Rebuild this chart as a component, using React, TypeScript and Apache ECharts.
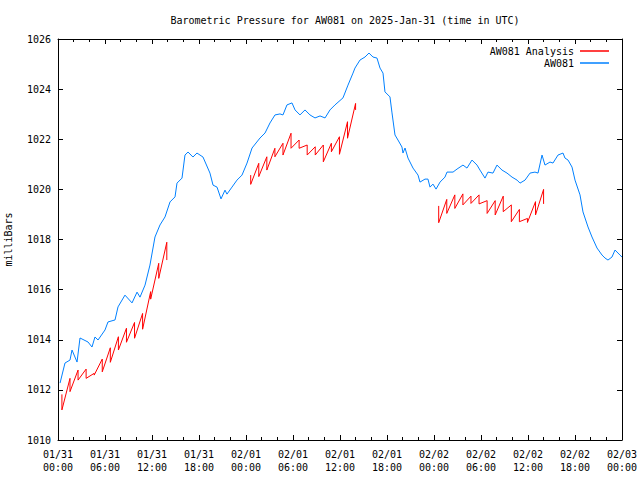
import React, { useEffect, useRef } from "react";
import * as echarts from "echarts";

// ---- data ----
const titleText = "Barometric Pressure for AW081 on 2025-Jan-31 (time in UTC)";
const xTickLabels = [
  "01/31\n00:00", "01/31\n06:00", "01/31\n12:00", "01/31\n18:00",
  "02/01\n00:00", "02/01\n06:00", "02/01\n12:00", "02/01\n18:00",
  "02/02\n00:00", "02/02\n06:00", "02/02\n12:00", "02/02\n18:00",
  "02/03\n00:00",
];
const yTicks = [1010, 1012, 1014, 1016, 1018, 1020, 1022, 1024, 1026];

// hours since 2025-01-31 00:00 UTC
const stationHours = [
  0.26, 0.89, 1.53, 1.79, 2.43, 2.81, 3.83, 4.34, 4.72, 5.11, 6.0, 6.38, 7.28, 7.66, 8.55, 9.45,
  10.09, 10.47, 11.11, 11.74, 12.38, 13.02, 13.66, 14.3, 14.94, 15.19, 15.83, 16.21, 16.6, 17.23,
  17.74, 18.51, 19.4, 19.79, 20.3, 20.81, 21.32, 21.57, 22.21, 22.85, 23.49, 24.13, 24.77, 25.79,
  26.43, 27.06, 27.7, 28.34, 28.72, 29.23, 29.87, 30.26, 30.89, 31.53, 32.17, 32.81, 33.45, 34.09,
  34.72, 35.36, 36.38, 37.02, 37.66, 37.91, 38.55, 39.19, 39.7, 40.21, 40.72, 41.11, 41.49, 41.74,
  42.38, 42.64, 43.02, 43.4, 43.91, 44.04, 44.3, 44.68, 45.32, 45.96, 46.21, 46.85, 47.23, 47.49,
  47.87, 48.26, 48.77, 49.4, 49.66, 50.43, 50.94, 51.7, 52.21, 52.85, 53.49, 53.87, 54.51, 54.89,
  55.53, 56.04, 56.68, 57.32, 57.96, 58.6, 58.98, 59.62, 60.26, 60.89, 61.28, 61.79, 62.17, 62.81,
  63.19, 63.83, 64.47, 64.72, 65.11, 65.62, 66.0, 66.64, 67.02, 67.66, 68.17, 68.81, 69.45, 69.83,
  70.21, 70.72, 71.11, 71.74, 72.0,
];
const stationValues = [
  1012.27, 1013.07, 1013.19, 1013.59, 1013.11, 1014.07, 1013.91, 1013.71, 1014.11, 1013.99, 1014.39,
  1014.71, 1014.79, 1015.31, 1015.78, 1015.47, 1015.9, 1015.7, 1016.18, 1016.98, 1018.1, 1018.58,
  1018.9, 1019.5, 1019.7, 1020.25, 1020.45, 1021.37, 1021.49, 1021.29, 1021.45, 1021.29, 1020.65,
  1020.17, 1020.09, 1019.62, 1019.97, 1019.81, 1020.09, 1020.37, 1020.57, 1021.05, 1021.65, 1022.05,
  1022.25, 1022.65, 1022.97, 1023.01, 1022.97, 1023.37, 1023.45, 1023.17, 1022.97, 1023.17, 1022.97,
  1022.85, 1022.93, 1022.85, 1023.17, 1023.37, 1023.65, 1024.16, 1024.64, 1024.84, 1025.16, 1025.28,
  1025.44, 1025.28, 1025.24, 1024.84, 1024.64, 1023.89, 1023.69, 1023.05, 1022.17, 1021.97, 1021.69,
  1021.45, 1021.65, 1021.25, 1020.85, 1020.57, 1020.29, 1020.41, 1020.41, 1020.09, 1020.21, 1020.01,
  1020.29, 1020.49, 1020.69, 1020.69, 1020.81, 1020.97, 1020.85, 1021.17, 1020.97, 1020.77, 1020.45,
  1020.69, 1020.65, 1020.97, 1020.77, 1020.65, 1020.49, 1020.37, 1020.25, 1020.37, 1020.65, 1020.69,
  1020.65, 1021.37, 1020.97, 1021.09, 1021.05, 1021.37, 1021.45, 1021.25, 1021.17, 1020.89, 1020.37,
  1019.78, 1019.1, 1018.5, 1018.1, 1017.66, 1017.38, 1017.26, 1017.18, 1017.3, 1017.58, 1017.38,
  1017.3,
];

// analysis: each hourly run ramps from its start value to the next boundary
const analysisStarts = [0.5, 24.6, 48.6]; // hours
const analysisStep = 1.03; // hours between boundaries
const analysisTops1 = [1011.82, 1012.46, 1012.79, 1012.83, 1012.66, 1013.23, 1013.68, 1014.12, 1014.46, 1014.69, 1015.05, 1015.92, 1017.05, 1017.89];
const analysisBottoms1 = [1011.2, 1011.93, 1012.39, 1012.46, 1012.59, 1012.72, 1013.1, 1013.59, 1013.9, 1014.06, 1014.42, 1015.62, 1016.45, 1017.18];
const analysisTops2 = [1020.57, 1021.04, 1021.3, 1021.64, 1021.84, 1022.24, 1021.97, 1021.77, 1021.7, 1021.77, 1021.84, 1022.1, 1022.7, 1023.43];
const analysisBottoms2 = [1020.2, 1020.51, 1020.77, 1021.3, 1021.37, 1021.64, 1021.64, 1021.37, 1021.37, 1021.1, 1021.5, 1021.4, 1022.04, 1023.17];
const analysisTops3 = [1019.34, 1019.6, 1019.78, 1019.82, 1019.73, 1019.78, 1019.55, 1019.55, 1019.73, 1019.38, 1019.2, 1018.84, 1019.51, 1020.0];
const analysisBottoms3 = [1018.67, 1019.04, 1019.24, 1019.38, 1019.44, 1019.42, 1019.04, 1018.98, 1019.11, 1018.71, 1018.71, 1018.68, 1018.98, 1019.42];

const FONT = "DejaVu Sans Mono";

export default function App() {
  const ref = useRef<HTMLDivElement>(null);
  useEffect(() => {
    if (!ref.current) return;
    const chart = echarts.init(ref.current, null, { renderer: "svg" });

    const stationData = stationHours.map((h, i) => [h, stationValues[i]]);
    const segs = [
      [analysisTops1, analysisBottoms1],
      [analysisTops2, analysisBottoms2],
      [analysisTops3, analysisBottoms3],
    ];
    const analysisData: any[] = [];
    segs.forEach(([tops, bottoms], s) => {
      tops.forEach((t, k) => {
        const h = analysisStarts[s] + k * analysisStep;
        analysisData.push([h, t]);
        analysisData.push([h, bottoms[k]]);
      });
      analysisData.push([analysisStarts[s] + tops.length * analysisStep, "-"]);
    });

    const xCommon = {
      type: "value" as const,
      min: 0,
      max: 72,
      interval: 6,
      splitLine: { show: false },
      axisLine: { show: true, onZero: false, lineStyle: { color: "#000", width: 1 } },
      axisTick: { show: true, inside: true, length: 5, lineStyle: { color: "#000" } },
      minorTick: { show: true, splitNumber: 3, length: 3, lineStyle: { color: "#000" } },
    };
    const yCommon = {
      type: "value" as const,
      min: yTicks[0],
      max: yTicks[yTicks.length - 1],
      interval: 2,
      splitLine: { show: false },
      axisLine: { show: true, onZero: false, lineStyle: { color: "#000", width: 1 } },
      axisTick: { show: true, inside: true, length: 5, lineStyle: { color: "#000" } },
    };

    chart.setOption({
      animation: false,
      backgroundColor: "#fff",
      textStyle: { fontFamily: FONT },
      title: {
        text: titleText,
        left: 340,
        textAlign: "center",
        top: 10,
        textStyle: { fontFamily: FONT, fontSize: 10, fontWeight: "normal", color: "#000" },
      },
      grid: { left: 58, right: 18, top: 39, bottom: 40, containLabel: false, outerBoundsMode: "none" },
      legend: [
        {
          data: ["AW081 Analysis"],
          right: 26,
          top: 41,
          align: "right",
          icon: "rect",
          itemWidth: 29,
          itemHeight: 1.5,
          textStyle: { fontFamily: FONT, fontSize: 10, color: "#000", padding: [0, 1, 0, 0] },
        },
        {
          data: ["AW081"],
          right: 26,
          top: 53,
          align: "right",
          icon: "rect",
          itemWidth: 29,
          itemHeight: 1.5,
          textStyle: { fontFamily: FONT, fontSize: 10, color: "#000", padding: [0, 1, 0, 0] },
        },
      ],
      xAxis: [
        {
          ...xCommon,
          position: "bottom",
          axisLabel: {
            show: true,
            margin: 8,
            lineHeight: 13,
            fontFamily: FONT,
            fontSize: 10,
            color: "#000",
            formatter: (v: number) => xTickLabels[Math.round(v / 6)] ?? "",
          },
        },
        { ...xCommon, position: "top", axisLabel: { show: false } },
      ],
      yAxis: [
        {
          ...yCommon,
          position: "left",
          name: "milliBars",
          nameLocation: "middle",
          nameRotate: 90,
          nameGap: 45,
          nameTextStyle: { fontFamily: FONT, fontSize: 10, color: "#000" },
          axisLabel: {
            show: true,
            margin: 7,
            fontFamily: FONT,
            fontSize: 10,
            color: "#000",
            formatter: (v: number) => String(v),
          },
        },
        { ...yCommon, position: "right", axisLabel: { show: false } },
      ],
      series: [
        {
          name: "AW081 Analysis",
          type: "line",
          data: analysisData,
          showSymbol: false,
          connectNulls: false,
          lineStyle: { color: "#ff0000", width: 1 },
          itemStyle: { color: "#ff0000" },
          xAxisIndex: 0,
          yAxisIndex: 0,
        },
        {
          name: "AW081",
          type: "line",
          data: stationData,
          showSymbol: false,
          lineStyle: { color: "#0080ff", width: 1 },
          itemStyle: { color: "#0080ff" },
          xAxisIndex: 0,
          yAxisIndex: 0,
        },
      ],
    });
    return () => chart.dispose();
  }, []);
  return <div ref={ref} style={{ width: 640, height: 480, position: "absolute", left: 0, top: 0 }} />;
}
